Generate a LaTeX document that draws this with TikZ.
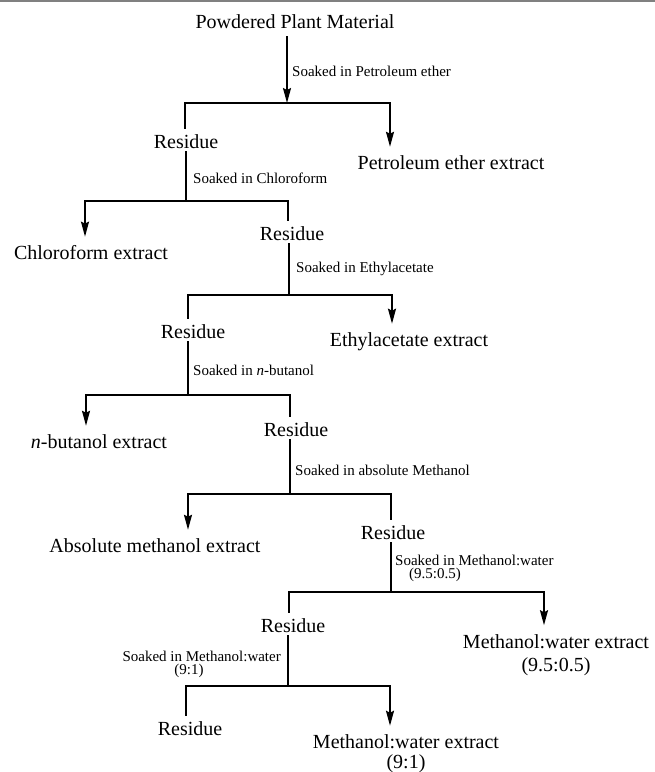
\documentclass[tikz,border=0pt]{standalone}
\usepackage{fontspec}
\setmainfont{Liberation Serif}
\usetikzlibrary{arrows.meta}

\begin{document}
\begin{tikzpicture}[x=1pt, y=-1pt,
            every node/.style={inner sep=0pt},
            residu/.style={font=\fontsize{20}{23}\selectfont, align=center},
            extrait/.style={residu},
            etape/.style={font=\fontsize{15}{15}\selectfont},
            trait/.style={line width=1.8pt, line cap=rect},
            fleche/.style={-{Stealth[length=15pt, width=8pt, inset=2pt]}}]
            \useasboundingbox (0,0) rectangle (655,772);
            \draw[gray, line width=1.5pt] (0,1) -- (655,1);
            % produits
            \node[residu]  (pm) at (295,22)  {Powdered Plant Material};
            \node[residu]  (r1) at (186,142) {Residue};
            \node[extrait] (e1) at (451,163) {Petroleum ether extract};
            \node[residu]  (r2) at (292,234) {Residue};
            \node[extrait] (e2) at (91,253)  {Chloroform extract};
            \node[residu]  (r3) at (193,332) {Residue};
            \node[extrait] (e3) at (409,342) {Ethylacetate extract};
            \node[residu]  (r4) at (296,430) {Residue};
            \node[extrait] (e4) at (99,442)  {\textit{n}-butanol extract};
            \node[residu]  (r5) at (393,533) {Residue};
            \node[extrait] (e5) at (155,546) {Absolute methanol extract};
            \node[residu]  (r6) at (293,626) {Residue};
            \node[extrait] (e6) at (556,655) {Methanol:water extract\\(9.5:0.5)};
            \node[residu]  (r7) at (190,729) {Residue};
            \node[extrait] (e7) at (406,754) {Methanol:water extract\\[-3pt](9:1)};
            % solvants
            \node[etape, anchor=west] (s1) at (292,71)  {Soaked in Petroleum ether};
            \node[etape, anchor=west] (s2) at (193,178) {Soaked in Chloroform};
            \node[etape, anchor=west] (s3) at (296,269) {Soaked in Ethylacetate};
            \node[etape, anchor=west] (s4) at (193,370) {Soaked in \textit{n}-butanol};
            \node[etape, anchor=west] (s5) at (295,470) {Soaked in absolute Methanol};
            \node[etape, anchor=west] (s6) at (395,560) {Soaked in Methanol:water};
            \node[etape] (s6b) at (435,575) {(9.5:0.5)};
            \node[etape, anchor=east] (s7) at (281,656) {Soaked in Methanol:water};
            \node[etape] (s7b) at (189,671) {(9:1)};
            % embranchements
            \coordinate (j1) at (287,103); \coordinate (g1) at (185,103); \coordinate (d1) at (390,103);
            \coordinate (j2) at (186,201); \coordinate (g2) at (85,201);  \coordinate (d2) at (288,201);
            \coordinate (j3) at (289,295); \coordinate (g3) at (188,295); \coordinate (d3) at (392,295);
            \coordinate (j4) at (188,395); \coordinate (g4) at (86,395);  \coordinate (d4) at (290,395);
            \coordinate (j5) at (290,494); \coordinate (g5) at (188,494); \coordinate (d5) at (391,494);
            \coordinate (j6) at (391,592); \coordinate (g6) at (289,592); \coordinate (d6) at (544,592);
            \coordinate (j7) at (288,686); \coordinate (g7) at (186,686); \coordinate (d7) at (390,686);
            \path[trait] (pm.south -| j1) edge[fleche, shorten <=8pt] (j1)
                         (g1 |- r1.north) edge[shorten <=7pt] (g1)
                         (g1) edge (d1)
                         (d1) edge[fleche, shorten >=9pt] (d1 |- e1.north);
            \path[trait] (r1.south -| j2) edge[shorten <=3pt] (j2)
                         (g2) edge (d2)
                         (g2) edge[fleche, shorten >=9pt] (g2 |- e2.north)
                         (d2 |- r2.north) edge[shorten <=7pt] (d2);
            \path[trait] (r2.south -| j3) edge[shorten <=3pt] (j3)
                         (g3 |- r3.north) edge[shorten <=7pt] (g3)
                         (g3) edge (d3)
                         (d3) edge[fleche, shorten >=9pt] (d3 |- e3.north);
            \path[trait] (r3.south -| j4) edge[shorten <=3pt] (j4)
                         (g4) edge (d4)
                         (g4) edge[fleche, shorten >=9pt] (g4 |- e4.north)
                         (d4 |- r4.north) edge[shorten <=7pt] (d4);
            \path[trait] (r4.south -| j5) edge[shorten <=3pt] (j5)
                         (g5) edge (d5)
                         (g5) edge[fleche, shorten >=9pt] (g5 |- e5.north)
                         (d5 |- r5.north) edge[shorten <=7pt] (d5);
            \path[trait] (r5.south -| j6) edge[shorten <=3pt] (j6)
                         (g6 |- r6.north) edge[shorten <=7pt] (g6)
                         (g6) edge (d6)
                         (d6) edge[fleche, shorten >=9pt] (d6 |- e6.north);
            \path[trait] (r6.south -| j7) edge[shorten <=3pt] (j7)
                         (g7 |- r7.north) edge[shorten <=7pt] (g7)
                         (g7) edge (d7)
                         (d7) edge[fleche, shorten >=9pt] (d7 |- e7.north);
\end{tikzpicture}
\end{document}
